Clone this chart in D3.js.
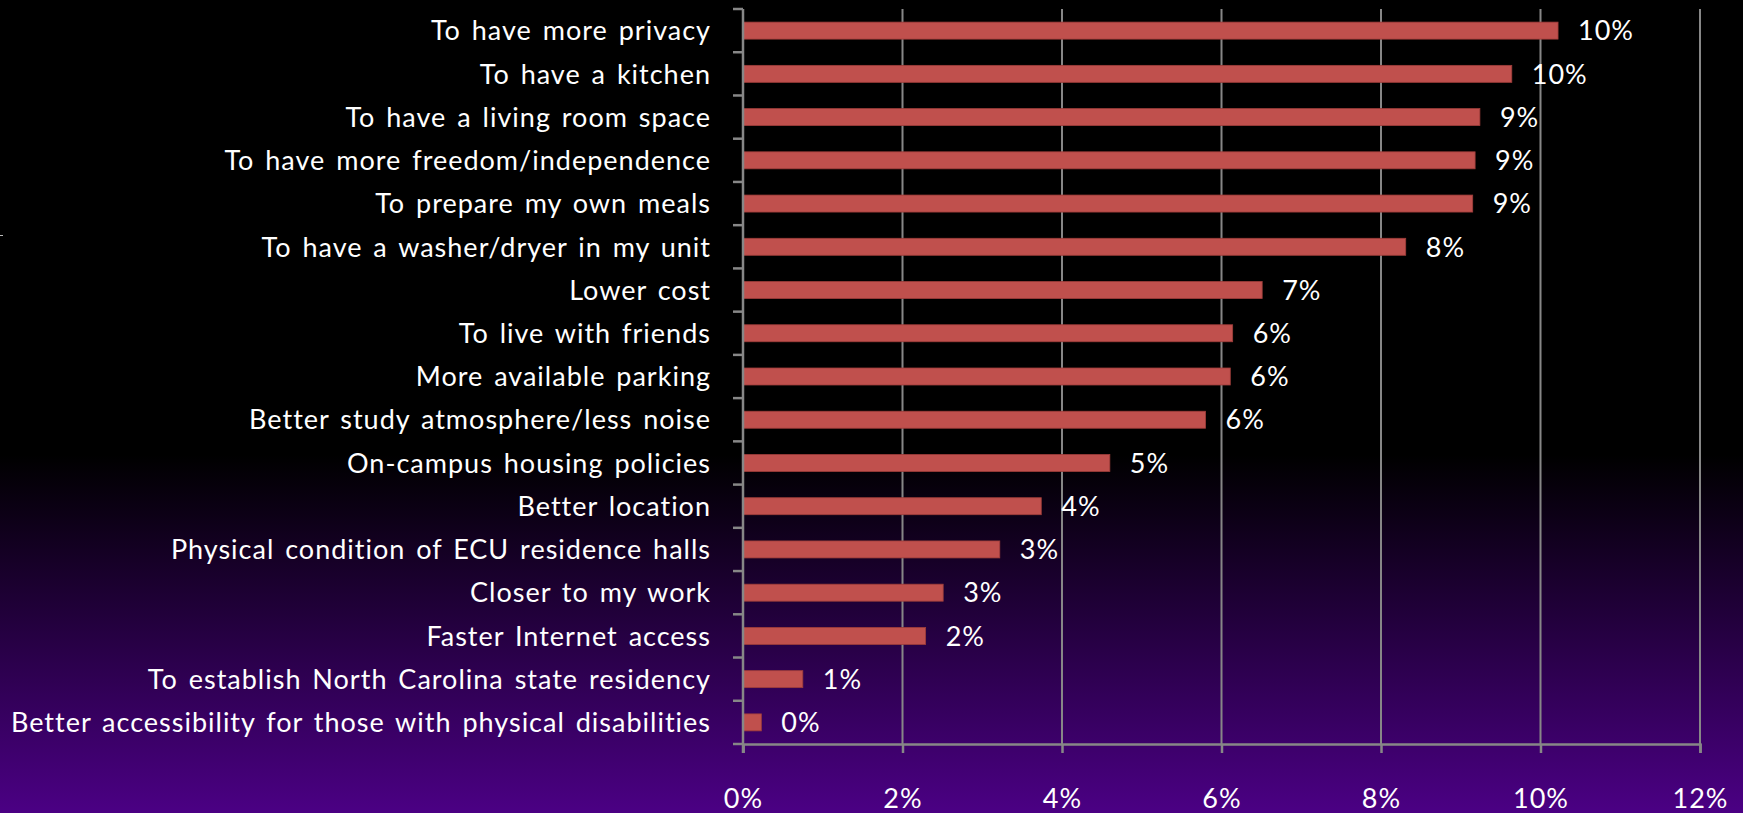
<!DOCTYPE html>
<html>
<head>
<meta charset="utf-8">
<script src="https://cdn.jsdelivr.net/npm/d3@7"></script>
<style>
  html, body { margin: 0; padding: 0; background: #000; }
  svg { display: block; }
  text {
    font-family: Lato, "Open Sans", sans-serif;
    fill: #fff;
    letter-spacing: 1px;
    word-spacing: 3px;
    font-variant-ligatures: none;
  }
</style>
</head>
<body>
<div id="chart"></div>
<script>
// Reasons for moving off campus (share of responses)
const categories = [
  "To have more privacy",
  "To have a kitchen",
  "To have a living room space",
  "To have more freedom/independence",
  "To prepare my own meals",
  "To have a washer/dryer in my unit",
  "Lower cost",
  "To live with friends",
  "More available parking",
  "Better study atmosphere/less noise",
  "On-campus housing policies",
  "Better location",
  "Physical condition of ECU residence halls",
  "Closer to my work",
  "Faster Internet access",
  "To establish North Carolina state residency",
  "Better accessibility for those with physical disabilities"
];
const values = [
  0.1022, 0.0964, 0.0924, 0.0918, 0.0915, 0.0831, 0.0651, 0.0614, 0.0611,
  0.0580, 0.0460, 0.0374, 0.0322, 0.0251, 0.0229, 0.0075, 0.0023
];
const xTicks = [0, 0.02, 0.04, 0.06, 0.08, 0.10, 0.12];

const W = 1743, H = 813;
const plot = { left: 743, right: 1700, top: 9, bottom: 744 };
const fontSize = 27;

const svg = d3.select("#chart").append("svg")
  .attr("width", W).attr("height", H);

// Background: black fading to indigo toward the bottom
const grad = svg.append("defs").append("linearGradient")
  .attr("id", "bg").attr("x1", 0).attr("y1", 0).attr("x2", 0).attr("y2", 1);
grad.append("stop").attr("offset", "0").attr("stop-color", "#000000");
grad.append("stop").attr("offset", "0.56").attr("stop-color", "#000000");
grad.append("stop").attr("offset", "1").attr("stop-color", "#4b0084");
svg.append("rect").attr("width", W).attr("height", H).attr("fill", "url(#bg)");

// small mark on the left edge
svg.append("line").attr("x1", 0).attr("x2", 3).attr("y1", 235.5).attr("y2", 235.5)
  .attr("stroke", "#bbb").attr("stroke-width", 1);

const x = d3.scaleLinear().domain([0, 0.12]).range([plot.left, plot.right]);
const y = d3.scaleBand().domain(categories)
  .range([plot.top, plot.bottom])
  .paddingInner(0.607).paddingOuter(0.3035);
const slot = d3.scaleLinear().domain([0, categories.length]).range([plot.top, plot.bottom]);

const axisColor = "#878787";

// vertical gridlines
svg.append("g").selectAll("line")
  .data(xTicks.filter(d => d > 0))
  .join("line")
  .attr("x1", d => x(d)).attr("x2", d => x(d))
  .attr("y1", plot.top).attr("y2", plot.bottom)
  .attr("stroke", axisColor).attr("stroke-width", 2);

// bars
svg.append("g").selectAll("rect")
  .data(values)
  .join("rect")
  .attr("x", x(0))
  .attr("y", (d, i) => y(categories[i]))
  .attr("width", d => x(d) - x(0))
  .attr("height", y.bandwidth())
  .attr("fill", "#c0504d")
  .attr("stroke", "#9e3d3a")
  .attr("stroke-width", 0.8);

// value labels
const fmt = d3.format(".0%");
svg.append("g").selectAll("text")
  .data(values)
  .join("text")
  .attr("x", d => x(d) + 20)
  .attr("y", (d, i) => y(categories[i]) + y.bandwidth() / 2)
  .attr("dy", "0.36em")
  .attr("font-size", fontSize)
  .text(d => fmt(d));

// category labels
svg.append("g").selectAll("text")
  .data(categories)
  .join("text")
  .attr("x", 711)
  .attr("y", d => y(d) + y.bandwidth() / 2)
  .attr("dy", "0.36em")
  .attr("text-anchor", "end")
  .attr("font-size", fontSize)
  .text(d => d);

// y axis: line with ticks on category boundaries
const yAxis = svg.append("g");
yAxis.append("line")
  .attr("x1", plot.left).attr("x2", plot.left)
  .attr("y1", plot.top).attr("y2", plot.bottom + 9)
  .attr("stroke", axisColor).attr("stroke-width", 2.5);
yAxis.selectAll("line.tick")
  .data(d3.range(categories.length + 1))
  .join("line").attr("class", "tick")
  .attr("x1", plot.left - 10).attr("x2", plot.left)
  .attr("y1", d => slot(d)).attr("y2", d => slot(d))
  .attr("stroke", axisColor).attr("stroke-width", 2.5);

// x axis
const xAxis = svg.append("g")
  .attr("transform", `translate(0,${plot.bottom})`)
  .call(d3.axisBottom(x).tickValues(xTicks).tickFormat(fmt).tickSize(9).tickPadding(36));
xAxis.select(".domain").attr("stroke", axisColor).attr("stroke-width", 2.5);
xAxis.selectAll(".tick line").attr("stroke", axisColor).attr("stroke-width", 2.5);
xAxis.selectAll(".tick text")
  .attr("font-size", fontSize)
  .attr("font-family", "Lato, 'Open Sans', sans-serif")
  .attr("fill", "#fff");
</script>
</body>
</html>
